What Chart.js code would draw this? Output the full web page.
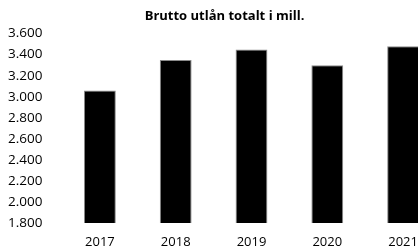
<!DOCTYPE html>
<html>
<head>
<meta charset="utf-8">
<script src="https://cdn.jsdelivr.net/npm/chart.js@4/dist/chart.umd.min.js"></script>
<style>
  html, body { margin: 0; padding: 0; background: #fff; overflow: hidden; }
  #wrap { width: 441px; height: 249px; }
  canvas { display: block; }
</style>
</head>
<body>
<div id="wrap"><canvas id="c" width="441" height="249"></canvas></div>
<script>
const categories = ['2017', '2018', '2019', '2020', '2021'];
const values = [3060, 3350, 3450, 3300, 3480];
const yTicks = [1800, 2000, 2200, 2400, 2600, 2800, 3000, 3200, 3400, 3600];
const titleText = 'Brutto utlån totalt i mill.';

const fmt = v => v.toLocaleString('de-DE');

new Chart(document.getElementById('c'), {
  type: 'bar',
  data: {
    labels: categories,
    datasets: [{
      data: values,
      backgroundColor: '#000000',
      borderColor: '#8a8a8a',
      borderWidth: 1,
      barPercentage: 0.42,
      categoryPercentage: 1
    }]
  },
  options: {
    responsive: false,
    animation: false,
    layout: { padding: { left: 8, right: 0, top: 0, bottom: 0 } },
    plugins: {
      legend: { display: false },
      tooltip: { enabled: false },
      title: {
        display: true,
        text: titleText,
        color: '#000',
        font: { family: 'Open Sans', size: 13, weight: 'bold' },
        padding: { top: 8, bottom: 10 }
      }
    },
    scales: {
      x: {
        afterFit: s => { s.height = 26; },
        grid: { display: false, drawTicks: false },
        border: { display: false },
        ticks: {
          color: '#000',
          font: { family: 'Open Sans', size: 13 },
          padding: 11,
          maxRotation: 0
        }
      },
      y: {
        min: yTicks[0],
        max: yTicks[yTicks.length - 1],
        afterBuildTicks: s => { s.ticks = yTicks.map(v => ({ value: v })); },
        afterFit: s => { s.width = 54; },
        grid: { display: false, drawTicks: false },
        border: { display: false },
        ticks: {
          color: '#000',
          font: { family: 'Open Sans', size: 13.5 },
          crossAlign: 'far',
          padding: 0,
          callback: v => fmt(v)
        }
      }
    }
  }
});
</script>
</body>
</html>
